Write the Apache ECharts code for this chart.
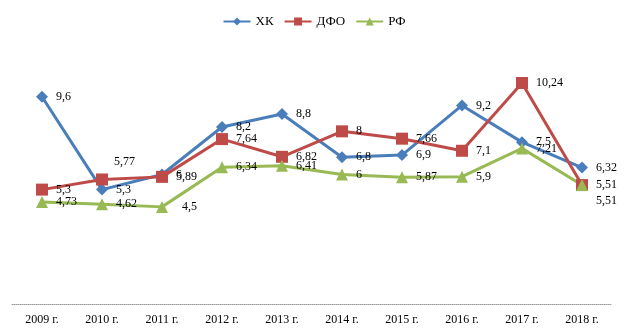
<!DOCTYPE html>
<html><head><meta charset="utf-8">
<script src="https://cdn.jsdelivr.net/npm/echarts@6/dist/echarts.min.js"></script>
<style>html,body{margin:0;padding:0;background:#fff}#c{width:628px;height:336px}</style>
</head><body><div id="c"></div>
<script>
const categories = ['2009 г.','2010 г.','2011 г.','2012 г.','2013 г.','2014 г.','2015 г.','2016 г.','2017 г.','2018 г.'];
const seriesNames = ['ХК','ДФО','РФ'];
const hk  = [9.6, 5.3, 6, 8.2, 8.8, 6.8, 6.9, 9.2, 7.5, 6.32];
const dfo = [5.3, 5.77, 5.89, 7.64, 6.82, 8, 7.66, 7.1, 10.24, 5.51];
const rf  = [4.73, 4.62, 4.5, 6.34, 6.41, 6, 5.87, 5.9, 7.21, 5.51];
const colors = ['#4a7ebb','#be4b48','#98b954'];
const symbols = ['diamond','rect','triangle'];
const symbolSizes = [12, 12, 12];
const FONT = '"Liberation Serif", "Times New Roman", serif';

function withLabels(arr, overrides){
  return arr.map((v,i)=> overrides[i] ? {value:v, label:overrides[i]} : v);
}
const fmt = p => String(p.value).replace('.', ',');

const dataSets = [
  withLabels(hk, {}),
  withLabels(dfo, {1:{offset:[-2,-18]}}),
  withLabels(rf, {2:{offset:[6,0]}, 9:{offset:[0,16]}})
];

const chart = echarts.init(document.getElementById('c'));
chart.setOption({
  animation:false,
  color: colors,
  legend:{
    top:10, left:'center', itemWidth:27, itemHeight:10, itemGap:10,
    textStyle:{fontFamily:FONT, fontSize:13, color:'#000'},
    data: seriesNames
  },
  grid:{left:12, right:16, top:45, bottom:32},
  xAxis:{
    type:'category', data:categories, boundaryGap:true,
    axisLine:{lineStyle:{color:'#9a9a9a', width:1, type:'dotted'}},
    axisTick:{show:false},
    axisLabel:{fontFamily:FONT, fontSize:12, color:'#000', margin:10}
  },
  yAxis:{type:'value', min:0, max:12, show:false, splitLine:{show:false}},
  series: seriesNames.map((n,k)=>({
    name:n, type:'line', data:dataSets[k],
    symbol:symbols[k], symbolSize:symbolSizes[k],
    lineStyle:{width:3, color:colors[k]},
    itemStyle:{color:colors[k]},
    label:{show:true, position:'right', distance:8, formatter:fmt,
      fontFamily:FONT, fontSize:12, color:'#000'}
  }))
});
</script></body></html>
